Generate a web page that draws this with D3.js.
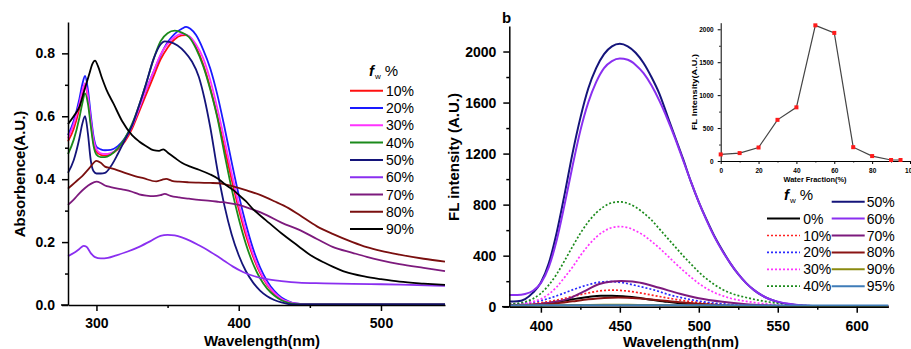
<!DOCTYPE html>
<html>
<head>
    <meta charset="UTF-8" />
    <title>Absorbance and FL spectra</title>
    <script src="https://d3js.org/d3.v7.min.js"></script>
    <style>
        body { margin: 0; background: #fff; }
        svg { display: block; }
    </style>
</head>
<body>
<div id="main"></div>
<script type="text/javascript">

// ---------- panel a : absorbance, [wavelength nm, absorbance] ----------
const absLabels = ["10%", "20%", "30%", "40%", "50%", "60%", "70%", "80%", "90%"];

const abs10 = [[280,.52],[284,.56],[288,.625],[290,.67],[292,.70],[294,.66],[296,.58],[298,.515],[300,.488],[303,.477],[306,.475],[310,.48],[315,.495],[320,.52],[325,.56],[330,.615],[335,.67],[340,.725],[345,.78],[350,.818],[355,.845],[360,.857],[363,.858],[366,.85],[370,.82],[375,.765],[380,.69],[385,.60],[390,.50],[395,.40],[400,.305],[405,.222],[410,.155],[415,.102],[420,.064],[425,.037],[430,.019],[435,.009],[440,.004],[450,.002],[470,.002],[545,.002]];
const abs20 = [[280,.54],[284,.585],[288,.655],[290,.70],[292,.728],[294,.685],[296,.605],[298,.535],[300,.503],[303,.495],[306,.492],[310,.493],[315,.505],[320,.53],[325,.57],[330,.625],[335,.685],[340,.74],[345,.793],[350,.835],[355,.862],[360,.878],[363,.884],[366,.878],[370,.858],[375,.812],[380,.752],[385,.668],[390,.565],[395,.455],[400,.35],[405,.258],[410,.18],[415,.12],[420,.076],[425,.045],[430,.024],[435,.012],[440,.005],[450,.002],[470,.002],[545,.002]];
const abs30 = [[280,.53],[284,.575],[288,.64],[290,.68],[292,.705],[294,.665],[296,.59],[298,.525],[300,.495],[303,.482],[306,.48],[310,.483],[315,.497],[320,.525],[325,.568],[330,.625],[335,.685],[340,.74],[345,.795],[350,.83],[355,.852],[360,.862],[365,.855],[370,.828],[375,.785],[380,.715],[385,.625],[390,.525],[395,.42],[400,.32],[405,.235],[410,.163],[415,.107],[420,.067],[425,.039],[430,.02],[435,.01],[440,.004],[450,.002],[470,.002],[545,.002]];
const abs40 = [[280,.48],[284,.525],[288,.595],[290,.64],[292,.673],[294,.64],[296,.57],[298,.505],[300,.478],[303,.47],[306,.47],[310,.478],[315,.498],[320,.53],[325,.575],[330,.635],[335,.705],[340,.78],[345,.838],[350,.864],[355,.872],[360,.866],[365,.852],[370,.815],[375,.76],[380,.685],[385,.595],[390,.48],[395,.37],[400,.275],[405,.195],[410,.132],[415,.085],[420,.052],[425,.03],[430,.015],[435,.007],[440,.003],[450,.002],[470,.002],[545,.002]];
const abs50 = [[280,.42],[284,.46],[288,.53],[290,.575],[292,.60],[294,.545],[296,.46],[298,.425],[300,.418],[303,.418],[306,.42],[310,.44],[315,.48],[320,.525],[325,.57],[330,.635],[335,.705],[340,.78],[345,.828],[348,.838],[352,.836],[357,.825],[362,.805],[367,.775],[372,.725],[376,.655],[380,.565],[385,.43],[390,.315],[395,.225],[400,.158],[405,.108],[410,.072],[415,.046],[420,.028],[425,.016],[430,.008],[435,.003],[440,.002],[470,.002],[545,.002]];
const abs60 = [[280,.155],[284,.165],[288,.178],[291,.188],[293,.185],[296,.165],[299,.152],[303,.148],[308,.15],[314,.158],[322,.17],[330,.185],[338,.203],[345,.22],[350,.223],[355,.221],[360,.215],[366,.204],[372,.19],[378,.175],[384,.158],[390,.14],[396,.122],[403,.105],[410,.093],[419,.083],[430,.076],[442,.071],[460,.069],[480,.067],[500,.066],[520,.064],[545,.061]];
const abs70 = [[280,.318],[284,.335],[288,.355],[292,.372],[296,.385],[300,.392],[303,.388],[306,.38],[310,.375],[315,.37],[320,.366],[325,.36],[330,.352],[335,.348],[340,.346],[345,.349],[348,.353],[352,.347],[358,.342],[365,.338],[372,.334],[380,.331],[386,.328],[392,.325],[400,.318],[407,.308],[415,.295],[420,.285],[430,.262],[443,.238],[455,.21],[466,.185],[480,.166],[490,.153],[500,.142],[513,.13],[530,.118],[545,.108]];
const abs80 = [[280,.37],[285,.39],[290,.41],[295,.435],[300,.458],[303,.452],[306,.44],[310,.435],[315,.428],[320,.42],[327,.41],[333,.403],[342,.393],[346,.398],[349,.401],[353,.395],[358,.392],[365,.39],[372,.389],[380,.388],[386,.387],[391,.383],[396,.377],[405,.365],[415,.35],[425,.33],[435,.308],[443,.285],[455,.25],[466,.226],[480,.2],[490,.184],[500,.172],[513,.16],[530,.147],[545,.138]];
const abs90 = [[280,.575],[284,.60],[288,.63],[292,.69],[295,.735],[297,.765],[299,.777],[301,.76],[304,.72],[307,.685],[312,.64],[318,.585],[325,.54],[330,.52],[335,.505],[340,.492],[344,.49],[347,.495],[350,.485],[355,.468],[360,.452],[366,.44],[372,.43],[380,.415],[386,.40],[392,.378],[396,.366],[400,.35],[405,.33],[410,.305],[419,.27],[430,.228],[442,.187],[450,.16],[460,.135],[466,.122],[475,.105],[489,.09],[500,.082],[513,.074],[530,.068],[545,.064]];

const absSeries = [abs10, abs20, abs30, abs40, abs50, abs60, abs70, abs80, abs90];
const absColors = ["#ff1010", "#1a1aff", "#ff33ff", "#1b8a1b", "#14147a", "#8a2ff0", "#7d1a7d", "#7a0f0f", "#000000"];

// ---------- panel b : fluorescence, [wavelength nm, intensity] ----------
const flLabels = ["0%", "10%", "20%", "30%", "40%", "50%", "60%", "70%", "80%", "90%", "95%"];

const fl0 = [[380,12],[390,15],[400,22],[410,38],[420,58],[430,76],[438,86],[445,86],[452,82],[460,72],[470,55],[480,38],[490,24],[500,14],[515,6],[530,2],[560,0],[620,0]];
const fl10 = [[380,15],[390,20],[400,32],[410,52],[420,80],[430,108],[440,127],[446,130],[455,122],[465,103],[475,80],[485,58],[495,40],[505,26],[520,13],[540,5],[560,2],[620,0]];
const fl20 = [[380,18],[390,28],[400,48],[410,85],[420,132],[430,172],[438,194],[444,197],[452,188],[462,160],[472,130],[480,98],[490,68],[500,44],[510,28],[525,14],[545,5],[570,1],[620,0]];
const fl30 = [[380,18],[390,25],[395,40],[400,60],[405,98],[410,155],[415,230],[420,310],[425,400],[430,480],[435,545],[440,592],[445,620],[450,628],[455,620],[460,595],[465,560],[470,512],[475,460],[480,402],[485,342],[490,285],[495,232],[500,182],[505,142],[510,110],[515,86],[520,66],[530,42],[540,25],[550,14],[565,6],[580,2],[620,0]];
const fl40 = [[380,22],[385,26],[390,38],[395,62],[400,105],[405,170],[410,255],[415,360],[420,470],[425,575],[430,665],[435,735],[440,785],[445,815],[450,822],[455,810],[460,780],[465,735],[470,680],[475,610],[480,540],[485,470],[490,400],[495,335],[500,272],[505,218],[510,172],[515,135],[520,107],[530,72],[540,46],[550,27],[565,11],[580,4],[620,0]];
const fl50 = [[380,40],[385,42],[390,60],[395,110],[400,190],[405,340],[410,580],[415,880],[420,1200],[425,1480],[430,1710],[435,1870],[440,1980],[445,2040],[450,2060],[455,2040],[460,1990],[465,1910],[470,1800],[475,1670],[480,1500],[485,1330],[490,1160],[495,980],[500,820],[505,680],[510,550],[515,440],[520,340],[525,255],[530,185],[535,130],[540,88],[545,58],[550,38],[560,16],[570,6],[580,2],[600,0],[620,0]];
const fl60 = [[380,92],[385,92],[390,100],[395,125],[400,185],[405,310],[410,520],[415,800],[420,1100],[425,1380],[430,1600],[435,1760],[440,1870],[445,1925],[450,1945],[455,1935],[460,1895],[465,1830],[470,1735],[475,1615],[480,1475],[485,1320],[490,1150],[495,980],[500,820],[505,675],[510,545],[515,435],[520,340],[525,255],[530,185],[535,130],[540,88],[545,58],[550,40],[560,18],[570,7],[580,3],[600,1],[620,0]];
const fl70 = [[380,10],[390,12],[400,22],[410,40],[418,65],[427,118],[437,178],[445,198],[451,202],[458,198],[463,188],[475,148],[488,102],[500,66],[515,38],[530,20],[545,10],[560,4],[580,1],[620,0]];
const fl80 = [[380,8],[390,10],[400,15],[410,26],[420,42],[430,58],[440,69],[449,72],[458,68],[470,57],[480,45],[490,33],[500,23],[515,12],[530,6],[550,2],[620,0]];
const fl90 = [[380,8],[400,10],[420,13],[440,16],[455,16],[470,13],[500,8],[530,5],[560,3],[620,2]];
const fl95 = [[380,10],[420,11],[450,12],[500,11],[550,10],[620,9]];

const flSeries = [fl0, fl10, fl20, fl30, fl40, fl50, fl60, fl70, fl80, fl90, fl95];
const flColors = ["#000000", "#ff2020", "#2a2aff", "#ff33ff", "#1b8a1b", "#14147a", "#8a2ff0", "#7d1a7d", "#8a1414", "#8a8a10", "#3f7cb8"];
const flDotted = [false, true, true, true, true, false, false, false, false, false, false];

// ---------- inset : peak intensity vs water fraction ----------
const waterFraction = [0, 10, 20, 30, 40, 50, 60, 70, 80, 90, 95];
const peakIntensity = [100, 120, 205, 625, 815, 2060, 1945, 210, 75, 15, 15];

const FONT = '"Liberation Sans", Arial, Helvetica, sans-serif';

const svg = d3.select("#main").append("svg")
  .attr("width", 911)
  .attr("height", 349)
  .style("font-family", FONT);

// axis helper: major ticks with labels, minor ticks without
function drawAxis(axisFn, scale, major, minor, fmt, transform, o) {
  const g = svg.append("g").attr("transform", transform)
    .call(axisFn(scale).tickValues(major).tickFormat(fmt)
      .tickSize(o.size).tickSizeOuter(0).tickPadding(o.pad));
  g.attr("font-family", FONT).attr("font-size", o.font).attr("font-weight", "bold");
  g.select(".domain").attr("stroke-width", o.width);
  g.selectAll(".tick line").attr("stroke-width", o.width);
  const m = svg.append("g").attr("transform", transform)
    .call(axisFn(scale).tickValues(minor).tickFormat("").tickSize(o.size / 2).tickSizeOuter(0));
  m.select(".domain").remove();
  m.selectAll(".tick line").attr("stroke-width", o.width);
  return g;
}

// ================= panel a =================
const ax = d3.scaleLinear().domain([280, 545]).range([68, 445]);
const ay = d3.scaleLinear().domain([0, 0.9]).range([305, 21.9]);

const absLine = d3.line()
  .x(d => ax(d[0]))
  .y(d => ay(d[1]))
  .curve(d3.curveMonotoneX);

svg.append("g").selectAll("path").data(absSeries).enter().append("path")
  .attr("d", absLine)
  .attr("fill", "none")
  .attr("stroke", (d, i) => absColors[i])
  .attr("stroke-width", 1.8);

drawAxis(d3.axisBottom, ax, [300, 400, 500], [350, 450], d3.format("d"),
  "translate(0,305)", { size: 6, pad: 7, font: 14, width: 1.5 });
drawAxis(d3.axisLeft, ay, [0, 0.2, 0.4, 0.6, 0.8], [0.1, 0.3, 0.5, 0.7], d3.format(".1f"),
  "translate(68,0)", { size: 6, pad: 7, font: 14, width: 1.5 });
svg.append("line").attr("x1", 61).attr("x2", 68).attr("y1", 305).attr("y2", 305)
  .attr("stroke", "#000").attr("stroke-width", 1.5);

svg.append("text")
  .attr("x", 262).attr("y", 346)
  .attr("text-anchor", "middle")
  .attr("font-size", 15).attr("font-weight", "bold")
  .text("Wavelength(nm)");

svg.append("text")
  .attr("transform", "translate(25,174) rotate(-90)")
  .attr("text-anchor", "middle")
  .attr("font-size", 15).attr("font-weight", "bold")
  .text("Absorbence(A.U.)");

// legend a
const legA = svg.append("g");
const fwA = legA.append("text").attr("x", 369).attr("y", 76).attr("font-size", 15);
fwA.append("tspan").attr("font-style", "italic").attr("font-weight", "bold").text("f");
fwA.append("tspan").attr("font-size", 8).attr("dy", 3).attr("dx", 1).text("w");
fwA.append("tspan").attr("dy", -3).attr("dx", 4).text("%");

absLabels.forEach((lab, i) => {
  const y = 90.7 + i * 17.3;
  legA.append("line").attr("x1", 350).attr("x2", 383).attr("y1", y).attr("y2", y)
    .attr("stroke", absColors[i]).attr("stroke-width", 2);
  legA.append("text").attr("x", 386).attr("y", y + 5).attr("font-size", 14).text(lab);
});

// ================= panel b =================
const bx = d3.scaleLinear().domain([380, 620]).range([509.3, 888.3]);
const by = d3.scaleLinear().domain([0, 2200]).range([306.7, 26]);

const flLine = d3.line()
  .x(d => bx(d[0]))
  .y(d => by(d[1]))
  .curve(d3.curveMonotoneX);

svg.append("g").selectAll("path").data(flSeries).enter().append("path")
  .attr("d", flLine)
  .attr("fill", "none")
  .attr("stroke", (d, i) => flColors[i])
  .attr("stroke-width", (d, i) => flDotted[i] ? 1.7 : 2)
  .attr("stroke-dasharray", (d, i) => flDotted[i] ? "2,2" : null);

drawAxis(d3.axisBottom, bx, [400, 450, 500, 550, 600], [425, 475, 525, 575], d3.format("d"),
  "translate(0,306.7)", { size: 6, pad: 8, font: 14, width: 1.5 });
drawAxis(d3.axisLeft, by, [0, 400, 800, 1200, 1600, 2000], [200, 600, 1000, 1400, 1800], d3.format("d"),
  "translate(509.3,0)", { size: 6, pad: 7, font: 14, width: 1.5 });
svg.append("line").attr("x1", 502).attr("x2", 509.3).attr("y1", 306.7).attr("y2", 306.7)
  .attr("stroke", "#000").attr("stroke-width", 1.5);

svg.append("text")
  .attr("x", 681).attr("y", 347)
  .attr("text-anchor", "middle")
  .attr("font-size", 15).attr("font-weight", "bold")
  .text("Wavelength(nm)");

svg.append("text")
  .attr("transform", "translate(459,157) rotate(-90)")
  .attr("text-anchor", "middle")
  .attr("font-size", 15).attr("font-weight", "bold")
  .text("FL intensity (A.U.)");

svg.append("text")
  .attr("x", 502).attr("y", 23)
  .attr("font-size", 15).attr("font-weight", "bold")
  .text("b");

// legend b
const legB = svg.append("g");
const fwB = legB.append("text").attr("x", 784).attr("y", 200).attr("font-size", 15);
fwB.append("tspan").attr("font-style", "italic").attr("font-weight", "bold").text("f");
fwB.append("tspan").attr("font-size", 8).attr("dy", 3).attr("dx", 1).text("w");
fwB.append("tspan").attr("dy", -3).attr("dx", 4).text("%");

flLabels.forEach((lab, i) => {
  const col = i < 5 ? 0 : 1;
  const row = i < 5 ? i + 1 : i - 5;
  const y = 201.7 + row * 16.9;
  const x1 = col === 0 ? 767 : 831.7;
  legB.append("line").attr("x1", x1).attr("x2", x1 + 33).attr("y1", y).attr("y2", y)
    .attr("stroke", flColors[i])
    .attr("stroke-width", flDotted[i] ? 1.7 : 2)
    .attr("stroke-dasharray", flDotted[i] ? "2,2" : null);
  legB.append("text").attr("x", col === 0 ? 803.3 : 866.7).attr("y", y + 5)
    .attr("font-size", 14).text(lab);
});

// ================= inset =================
const ix = d3.scaleLinear().domain([0, 100]).range([720.7, 910]);
const iy = d3.scaleLinear().domain([0, 2100]).range([161, 22.7]);

drawAxis(d3.axisBottom, ix, [0, 20, 40, 60, 80, 100], [10, 30, 50, 70, 90], d3.format("d"),
  "translate(0,161)", { size: 3, pad: 4, font: 6.5, width: 1 });
drawAxis(d3.axisLeft, iy, [0, 500, 1000, 1500, 2000], [250, 750, 1250, 1750], d3.format("d"),
  "translate(720.7,0)", { size: 3, pad: 4, font: 6.5, width: 1 });

const insetPts = waterFraction.map((w, i) => [w, peakIntensity[i]]);

svg.append("path")
  .datum(insetPts)
  .attr("d", d3.line().x(d => ix(d[0])).y(d => iy(d[1])))
  .attr("fill", "none")
  .attr("stroke", "#444")
  .attr("stroke-width", 1.2);

svg.append("g").selectAll("rect").data(insetPts).enter().append("rect")
  .attr("x", d => ix(d[0]) - 2)
  .attr("y", d => iy(d[1]) - 2)
  .attr("width", 4).attr("height", 4)
  .attr("fill", "#ff1a1a");

svg.append("text")
  .attr("x", 815).attr("y", 182)
  .attr("text-anchor", "middle")
  .attr("font-size", 7).attr("font-weight", "bold")
  .attr("textLength", 63).attr("lengthAdjust", "spacingAndGlyphs")
  .text("Water Fraction(%)");

svg.append("text")
  .attr("transform", "translate(697,92) rotate(-90)")
  .attr("text-anchor", "middle")
  .attr("font-size", 7).attr("font-weight", "bold")
  .attr("textLength", 76).attr("lengthAdjust", "spacingAndGlyphs")
  .text("FL Intensity(A.U.)");

</script>
</body>
</html>
